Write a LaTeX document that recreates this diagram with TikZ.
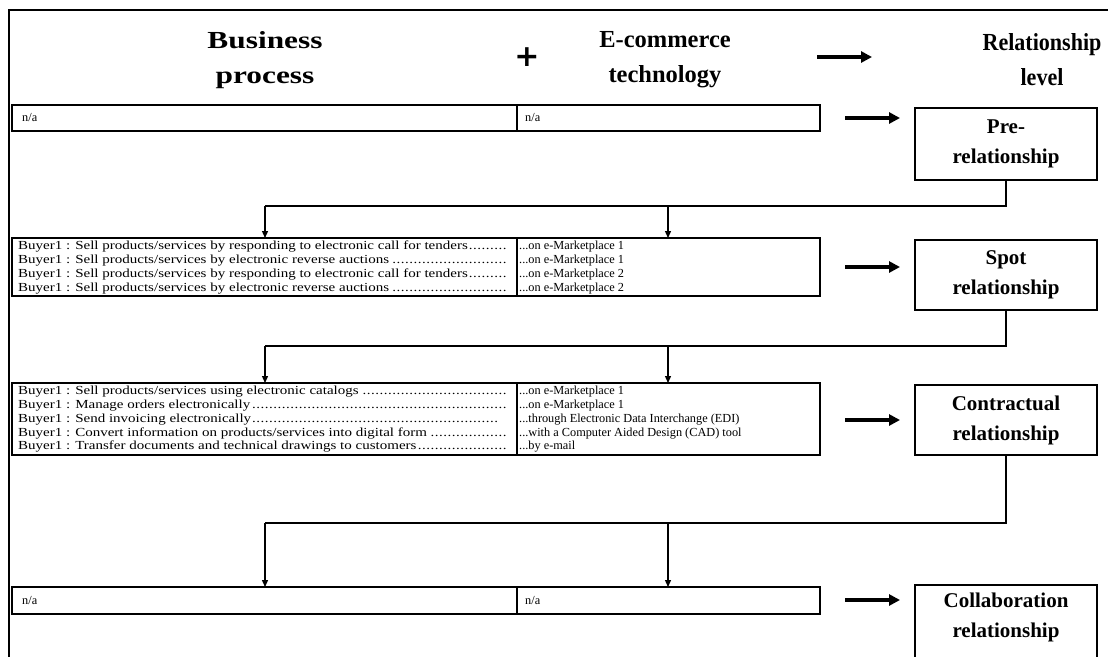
\documentclass[tikz,border=0pt]{standalone}
\usepackage{fontspec}
\setmainfont{Liberation Serif}
\newfontfamily\widefont[FakeStretch=1.22]{Liberation Serif}
\newfontfamily\wideheadfont[FakeStretch=1.28]{Liberation Serif}
\newfontfamily\narrowheadfont[FakeStretch=0.9]{Liberation Serif}
\newfontfamily\plusfont{DejaVu Sans}
\usetikzlibrary{arrows.meta}
\newcommand{\tightdots}{\leaders\hbox{.\kern0.5pt}\hfill}
\newcommand{\rowtxt}[1]{\hbox to 492pt{#1\tightdots}}
\begin{document}
\begin{tikzpicture}[x=1pt,y=-1pt,
  frameline/.style={line width=1.6pt},
  cellbox/.style={draw,line width=1.3pt,anchor=north west,inner sep=0pt,
    outer sep=0pt,minimum height=#1},
  leftcell/.style={cellbox=#1,minimum width=505pt},
  rightcell/.style={cellbox=#1,minimum width=303pt},
  celltext/.style={anchor=north west,inner sep=0pt,align=left,
    font=\fontsize{12.3}{13.8}\selectfont},
  lefttext/.style={celltext,font=\widefont\fontsize{12.3}{13.8}\selectfont},
  levelbox/.style={draw,line width=1.3pt,anchor=north west,inner sep=0pt,
    outer sep=0pt,minimum width=182pt,minimum height=#1},
  leveltext/.style={align=center,inner sep=0pt,
    font=\fontsize{21}{30}\bfseries},
  headtxt/.style={align=center,font=\fontsize{24.5}{35}\bfseries},
  bigarrow/.style={line width=3.2pt,-{Triangle[length=11pt,width=11pt]}},
  downarrow/.style={line width=1.3pt,-{Triangle[length=7pt,width=6pt]}},
  linkline/.style={line width=1.3pt,line join=miter}]
\useasboundingbox (0,0) rectangle (1108,656);
\fill[white] (0,0) rectangle (1108,656);

% open frame round the figure
\draw[frameline] (9,660) -- (9,10) -- (1112,10);

% column headings
\node[headtxt,font=\wideheadfont\fontsize{24.5}{35}\bfseries] (hbp) at (265,60) {Business\\process};
\node[font=\plusfont\fontsize{30}{30}\bfseries] (hplus) at (527,57) {+};
\node[headtxt] (hec) at (665,60) {E-commerce\\technology};
\coordinate (ha1) at (817,57);
\coordinate (ha2) at (872,57);
\draw[bigarrow] (ha1) -- (ha2);
\node[headtxt,font=\narrowheadfont\fontsize{24.5}{35}\bfseries] (hrl) at (1042,60) {Relationship\\level};

% pre-relationship level
\node[leftcell=26pt] (r1a) at (12,105) {};
\node[rightcell=26pt] (r1b) at (517,105) {};
\node[celltext,anchor=west] (t1a) at (22,118) {n/a};
\node[celltext,anchor=west] (t1b) at (525,118) {n/a};
\node[levelbox=72pt] (lv1) at (915,108) {};
\node[leveltext] (lv1t) at (lv1.center) {Pre-\\relationship};
\coordinate (a1s) at (845,118);
\coordinate (a1e) at (900,118);
\draw[bigarrow] (a1s) -- (a1e);

% spot relationship level
\node[leftcell=58pt] (r2a) at (12,238) {};
\node[rightcell=58pt] (r2b) at (517,238) {};
\node[lefttext] (t2a) at (18,241) {%
  \rowtxt{Buyer1 : Sell products/services by responding to electronic call for tenders}\\
  \rowtxt{Buyer1 : Sell products/services by electronic reverse auctions}\\
  \rowtxt{Buyer1 : Sell products/services by responding to electronic call for tenders}\\
  \rowtxt{Buyer1 : Sell products/services by electronic reverse auctions}};
\node[celltext] (t2b) at (519,241) {%
  ...on e-Marketplace 1\\...on e-Marketplace 1\\...on e-Marketplace 2\\...on e-Marketplace 2};
\node[levelbox=70pt] (lv2) at (915,240) {};
\node[leveltext] (lv2t) at (lv2.center) {Spot\\relationship};
\coordinate (a2s) at (845,267);
\coordinate (a2e) at (900,267);
\draw[bigarrow] (a2s) -- (a2e);

% contractual relationship level
\node[leftcell=72pt] (r3a) at (12,383) {};
\node[rightcell=72pt] (r3b) at (517,383) {};
\node[lefttext] (t3a) at (18,386) {%
  \rowtxt{Buyer1 : Sell products/services using electronic catalogs}\\
  \rowtxt{Buyer1 : Manage orders electronically}\\
  \hbox to 482pt{Buyer1 : Send invoicing electronically\tightdots}\\
  \rowtxt{Buyer1 : Convert information on products/services into digital form}\\
  \rowtxt{Buyer1 : Transfer documents and technical drawings to customers}};
\node[celltext] (t3b) at (519,386) {%
  ...on e-Marketplace 1\\...on e-Marketplace 1\\...through Electronic Data Interchange (EDI)\\
  ...with a Computer Aided Design (CAD) tool\\...by e-mail};
\node[levelbox=70pt] (lv3) at (915,385) {};
\node[leveltext] (lv3t) at (lv3.center) {Contractual\\relationship};
\coordinate (a3s) at (845,420);
\coordinate (a3e) at (900,420);
\draw[bigarrow] (a3s) -- (a3e);

% collaboration relationship level
\node[leftcell=27pt] (r4a) at (12,587) {};
\node[rightcell=27pt] (r4b) at (517,587) {};
\node[celltext,anchor=west] (t4a) at (22,600) {n/a};
\node[celltext,anchor=west] (t4b) at (525,600) {n/a};
\node[levelbox=85pt] (lv4) at (915,585) {};
\node[leveltext] (lv4t) at (1006,617) {Collaboration\\relationship};
\coordinate (a4s) at (845,600);
\coordinate (a4e) at (900,600);
\draw[bigarrow] (a4s) -- (a4e);

% links from one level down to the next pair of boxes
\draw[linkline] (lv1.south) -- ++(0,26) coordinate (k1) -- (k1 -| 265,0) coordinate (k1l);
\draw[downarrow] (k1l) -- (r2a.north -| k1l);
\draw[downarrow] (k1 -| 668,0) -- (r2b.north -| 668,0);

\draw[linkline] (lv2.south) -- ++(0,36) coordinate (k2) -- (k2 -| 265,0) coordinate (k2l);
\draw[downarrow] (k2l) -- (r3a.north -| k2l);
\draw[downarrow] (k2 -| 668,0) -- (r3b.north -| 668,0);

\draw[linkline] (lv3.south) -- ++(0,68) coordinate (k3) -- (k3 -| 265,0) coordinate (k3l);
\draw[downarrow] (k3l) -- (r4a.north -| k3l);
\draw[downarrow] (k3 -| 668,0) -- (r4b.north -| 668,0);
\end{tikzpicture}
\end{document}
